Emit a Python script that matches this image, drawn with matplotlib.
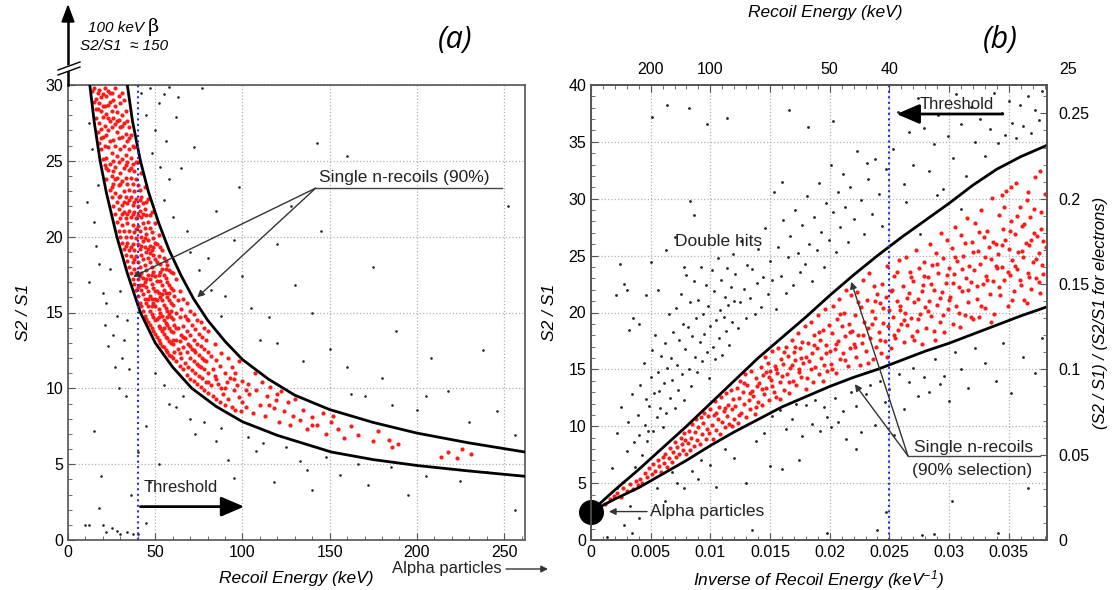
import numpy as np
import matplotlib
matplotlib.use("Agg")
import matplotlib.pyplot as plt
from matplotlib.ticker import MultipleLocator
from matplotlib.lines import Line2D
import matplotlib.transforms as mtransforms

plt.rcParams['font.family'] = ['Liberation Sans', 'DejaVu Sans']
plt.rcParams['mathtext.fontset'] = 'custom'
plt.rcParams['mathtext.rm'] = 'Liberation Sans:italic'
plt.rcParams['mathtext.it'] = 'Liberation Sans:italic'

# ---------------- данные панели (a): энергия отдачи, S2/S1 ----------------
band_a_upper_E = [34, 37, 41.5, 46, 52, 58, 65, 72, 80, 90, 100, 115, 130, 150, 175, 200, 230, 262]
band_a_upper_y = [30, 27.6, 25.0, 23.0, 20.9, 19.1, 17.4, 15.9, 14.5, 13.1, 11.9, 10.6, 9.55, 8.6, 7.75, 7.05, 6.4, 5.8]
band_a_lower_E = [12.5, 15, 18.4, 22, 28, 34, 41.5, 50, 60, 71, 85, 100, 120, 151, 175, 201, 230, 262]
band_a_lower_y = [30, 27.6, 25, 22.9, 20, 17.6, 15, 13, 11.4, 10, 8.8, 7.8, 6.9, 5.8, 5.3, 4.9, 4.55, 4.2]
threshold_E = 40

red_a = [
    (14,29.6),(15,28.9),(15,29.8),(16,27.8),(16,29.1),(17,28.4),(17,26.9),(17,29.5),(18,26.2),(18,27.5),(18,28.8),(18,29.7),
    (19,25.8),(19,27.1),(19,28.3),(19,29.2),(20,25.1),(20,26.6),(20,27.9),(20,29.4),(21,24.7),(21,26.0),(21,27.3),(21,28.6),(21,29.8),
    (22,23.8),(22,25.2),(22,26.7),(22,28.1),(22,29.3),(23,24.4),(23,25.9),(23,27.0),(23,28.7),(23,29.6),(24,23.1),(24,24.8),(24,26.3),
    (24,27.6),(24,28.9),(25,22.6),(25,24.0),(25,25.5),(25,27.2),(25,28.3),(25,29.5),(26,22.0),(26,23.5),(26,25.0),(26,26.4),(26,27.8),
    (26,29.0),(27,21.5),(27,22.9),(27,24.6),(27,26.0),(27,27.4),(27,28.6),(27,29.8),(28,21.0),(28,22.3),(28,23.9),(28,25.3),(28,26.9),
    (28,28.2),(29,20.4),(29,21.8),(29,23.4),(29,24.9),(29,26.5),(29,27.7),(29,29.3),(30,20.0),(30,21.2),(30,22.7),(30,24.2),(30,25.8),
    (30,27.2),(30,28.8),(31,19.6),(31,20.8),(31,22.1),(31,23.7),(31,25.1),(31,26.6),(31,28.0),(31,29.5),(32,19.2),(32,20.4),(32,21.6),
    (32,23.0),(32,24.5),(32,26.0),(32,27.5),(32,29.0),(33,18.8),(33,20.0),(33,21.2),(33,22.6),(33,23.9),(33,25.4),(33,26.8),(33,28.3),
    (34,18.4),(34,19.6),(34,20.9),(34,22.2),(34,23.5),(34,24.9),(34,26.3),(34,27.6),(35,18.0),(35,19.1),(35,20.4),(35,21.7),(35,23.1),
    (35,24.4),(35,25.8),(35,27.2),(36,17.6),(36,18.7),(36,20.0),(36,21.3),(36,22.6),(36,23.9),(36,25.2),(36,26.7),(37,17.2),(37,18.3),
    (37,19.5),(37,20.8),(37,22.1),(37,23.5),(37,24.8),(38,16.9),(38,17.9),(38,19.1),(38,20.3),(38,21.6),(38,23.0),(38,24.3),(38,25.9),
    (39,16.5),(39,17.6),(39,18.7),(39,19.9),(39,21.2),(39,22.5),(39,23.8),(40,16.1),(40,17.2),(40,18.3),(40,19.5),(40,20.7),(40,22.0),
    (40,23.4),(40,24.9),(41,15.6),(41,16.8),(41,18.0),(41,19.2),(41,20.4),(41,21.7),(41,23.1),(42,15.4),(42,16.5),(42,17.6),(42,18.8),
    (42,20.0),(42,21.3),(42,22.6),(42,24.2),(43,15.1),(43,16.2),(43,17.3),(43,18.5),(43,19.7),(43,20.9),(43,22.2),(44,14.8),(44,15.9),
    (44,17.0),(44,18.1),(44,19.3),(44,20.6),(44,21.8),(44,23.3),(45,14.6),(45,15.6),(45,16.7),(45,17.8),(45,19.0),(45,20.2),(45,21.4),
    (46,14.4),(46,15.4),(46,16.4),(46,17.5),(46,18.6),(46,19.8),(46,21.0),(46,22.5),(47,14.2),(47,15.1),(47,16.1),(47,17.2),(47,18.3),
    (47,19.4),(47,20.6),(48,14.0),(48,14.9),(48,15.9),(48,16.9),(48,18.0),(48,19.1),(48,20.3),(48,21.6),(49,13.8),(49,14.7),(49,15.6),
    (49,16.6),(49,17.7),(49,18.8),(49,19.9),(50,13.6),(50,14.5),(50,15.4),(50,16.4),(50,17.4),(50,18.5),(50,19.6),(50,20.9),
    (51,13.4),(51,14.6),(51,15.8),(51,17.1),(51,18.3),(51,19.5),(52,13.2),(52,14.1),(52,15.2),(52,16.3),(52,17.5),(52,18.7),(52,20.1),
    (53,13.0),(53,14.0),(53,15.0),(53,16.0),(53,17.1),(53,18.2),(53,19.3),(54,12.8),(54,13.8),(54,14.8),(54,15.8),(54,16.8),(54,17.9),
    (54,19.1),(55,12.7),(55,13.6),(55,14.5),(55,15.5),(55,16.5),(55,17.5),(55,18.6),(56,12.5),(56,13.4),(56,14.3),(56,15.3),(56,16.3),
    (56,17.3),(56,18.4),(57,12.4),(57,13.3),(57,14.2),(57,15.1),(57,16.0),(57,17.0),(57,18.1),(58,12.2),(58,13.1),(58,14.0),(58,14.9),
    (58,15.8),(58,16.8),(58,17.8),(59,12.1),(59,13.0),(59,13.8),(59,14.7),(59,15.6),(59,16.6),(59,17.7),(60,12.0),(60,12.9),(60,13.7),
    (60,14.6),(60,15.5),(60,16.5),(60,17.6),
    (61,12.4),(61,14.2),(61,16.1),(62,11.8),(62,13.2),(62,15.0),(62,17.2),(63,12.6),(63,14.0),(63,15.8),(64,11.5),(64,13.1),(64,14.7),
    (64,16.4),(65,12.0),(65,13.5),(65,15.2),(66,11.3),(66,12.7),(66,14.1),(66,15.9),(67,11.7),(67,13.3),(67,14.8),(68,10.9),(68,12.4),
    (68,13.8),(68,15.6),(69,11.4),(69,12.9),(69,14.5),(70,10.6),(70,12.0),(70,13.5),(70,15.1),(71,11.2),(71,12.6),(71,14.2),(72,10.5),
    (72,11.8),(72,13.2),(72,14.9),(73,11.0),(73,12.4),(73,13.9),(74,10.3),(74,11.6),(74,12.9),(74,14.5),(75,10.8),(75,12.2),(75,13.6),
    (76,10.1),(76,11.4),(76,12.8),(76,14.4),(77,10.7),(77,12.0),(77,13.4),(78,9.9),(78,11.3),(78,12.6),(78,14.0),(79,10.4),(79,11.8),
    (79,13.2),(80,9.7),(80,11.0),(80,12.4),(80,13.8),
    (82,10.2),(82,12.1),(83,9.5),(83,11.3),(84,10.8),(84,12.9),(85,9.3),(85,11.9),(86,10.3),(87,9.1),(87,11.5),(88,10.0),(88,12.3),
    (89,9.6),(90,8.9),(90,11.0),(91,10.4),(92,9.3),(92,12.0),(93,10.7),(94,8.8),(94,11.4),(95,9.9),(96,8.6),(96,11.0),(97,10.2),
    (98,9.4),(98,11.8),(99,8.5),(100,10.5),(100,9.1),
    (102,8.8),(103,10.3),(104,9.6),(106,8.4),(107,11.0),(108,9.9),(110,8.9),(111,10.4),(113,8.2),(114,9.5),(116,10.1),(118,8.7),
    (119,9.2),(121,7.8),(122,9.8),(124,8.5),(126,9.1),(127,7.6),(129,8.2),(130,9.3),
    (133,7.9),(135,8.6),(137,7.3),(140,8.1),(143,7.6),(146,8.4),(148,7.0),(151,7.8),(155,7.3),(158,6.7),(162,7.5),(166,6.9),
    (184,6.6),(186,6.1),(189,6.3),(214,5.5),(218,5.8),(223,5.4),(226,6.0),(231,5.7),
    (16,28.4),(19,26.5),(20,28.6),(22,24.5),(23,27.8),(24,29.5),(25,23.3),(26,24.3),(27,23.8),(28,27.6),(29,22.6),(30,23.5),
    (31,21.5),(31,27.3),(32,22.3),(33,19.4),(33,24.7),(34,21.5),(35,22.4),(35,26.5),(36,19.3),(36,24.5),(37,21.5),(37,26.0),
    (38,18.5),(38,22.3),(39,20.5),(39,24.9),(40,16.7),(40,21.4),(41,17.4),(41,22.4),(42,19.4),(43,16.8),(43,21.5),(44,19.9),
    (45,17.2),(45,22.3),(46,15.9),(46,19.2),(47,18.9),(47,21.4),(48,15.4),(48,17.5),(49,19.3),(50,15.9),(51,16.4),(52,14.7),
    (53,17.7),(54,16.2),(55,14.0),(56,17.9),(57,14.7),(58,16.3),(59,15.1),(60,13.2),(62,14.0),(64,12.3),(66,13.4),(68,14.6),
    (70,12.8),(72,12.5),(75,11.5),(78,11.9),(80,10.4),(85,10.6),(90,10.0),(95,10.6),(102,9.9),(115,8.9),(120,9.6),(140,7.6),
    (152,8.2),(175,6.5),(178,7.2),
]

black_a = [
    (12,27.5),(14,25.8),(11,22.3),(15,21.0),(17,23.4),(16,19.4),(18,18.2),(12,17.0),(20,16.3),(22,15.6),(24,17.9),(21,14.2),
    (26,13.5),(23,12.8),(28,14.8),(30,16.4),(27,11.4),(32,13.2),(29,10.0),(34,14.5),(31,12.0),(33,9.5),(35,11.3),(15,7.2),
    (12,1.0),(18,2.1),(20,1.0),(22,0.5),(25,0.8),(28,0.6),(30,0.4),(34,0.5),(37,0.4),(40,0.4),(45,1.1),(19,4.2),(10,1.0),(36,3.0),
    (42,29.5),(45,28.0),(47,29.8),(50,27.0),(52,28.8),(48,25.5),(53,24.6),(56,26.3),(55,22.4),(58,23.8),(60,21.3),(62,27.9),
    (65,24.5),(72,25.9),(68,20.4),(70,19.0),(75,17.8),(80,18.6),(82,16.5),(88,14.8),(85,21.7),(90,16.1),(95,19.8),(100,17.4),
    (105,15.3),(110,13.2),(115,14.7),(98,23.3),(77,29.8),(63,29.2),(58,29.9),(55,29.4),
    (50,11.0),(55,10.2),(58,9.0),(62,8.8),(66,9.5),(70,8.0),(73,7.0),(78,7.8),(85,6.5),(88,7.4),(92,5.3),(95,4.1),(103,6.8),
    (108,5.9),(112,6.4),(118,3.8),(125,6.1),(133,5.2),(137,4.6),(140,3.3),(148,5.5),(156,4.3),(166,5.0),(172,3.6),(185,4.8),
    (195,3.0),(205,4.2),(225,3.9),(240,4.5),(256,2.0),(45,7.5),(52,5.0),(40,5.8),(47,3.8),
    (120,19.5),(130,16.8),(140,15.0),(150,12.6),(160,11.4),(170,9.5),(180,10.7),(200,8.6),(218,9.8),(230,7.8),(246,8.5),
    (256,6.9),(128,22.0),(145,20.4),(160,25.3),(175,18.0),(188,13.8),(208,12.0),(238,12.5),(252,22.0),(143,26.2),(186,8.9),
    (162,9.6),(135,11.8),(120,13.0),(205,9.5),
]

# ---------------- данные панели (b): 1/E, S2/S1 ----------------
band_b_x = [0, 0.002, 0.004, 0.006, 0.008, 0.010, 0.012, 0.014, 0.016, 0.018, 0.020, 0.022, 0.024, 0.026,
            0.028, 0.030, 0.032, 0.034, 0.036, 0.0382]
band_b_upper = [2.5, 4.4, 6.2, 8.1, 10.0, 12.0, 14.0, 16.0, 17.8, 19.6, 21.5, 23.3, 25.0, 26.6,
                28.1, 29.6, 31.2, 32.6, 33.7, 34.7]
band_b_lower = [2.5, 3.6, 4.6, 5.8, 7.0, 8.3, 9.5, 10.6, 11.7, 12.6, 13.5, 14.3, 15.0, 15.8,
                16.6, 17.3, 18.1, 18.9, 19.7, 20.5]
alpha_y = 2.5
ratio_electrons = 150
top_energies = [200, 100, 50, 40, 25]

red_b = [
    (0.0012,3.2),(0.0016,3.6),(0.0019,3.9),(0.0022,4.1),(0.0025,3.8),(0.0027,4.6),(0.0030,4.3),(0.0033,4.9),(0.0035,4.5),(0.0038,5.2),(0.0039,4.8),
    (0.0041,5.4),(0.0043,5.0),(0.0045,5.9),(0.0047,5.5),(0.0049,6.3),(0.0051,5.8),(0.0052,6.7),(0.0054,6.1),(0.0056,7.0),(0.0057,6.5),(0.0059,6.0),(0.0060,7.3),
    (0.0061,6.8),(0.0062,7.6),(0.0064,6.4),(0.0065,7.2),(0.0066,8.1),(0.0068,6.9),(0.0069,7.7),(0.0070,8.6),(0.0071,7.3),(0.0072,8.2),(0.0074,7.6),(0.0075,9.0),
    (0.0076,8.4),(0.0077,7.9),(0.0078,9.4),(0.0079,8.8),(0.0080,7.6),
    (0.0081,8.5),(0.0082,9.6),(0.0083,7.9),(0.0084,9.0),(0.0085,10.2),(0.0086,8.3),(0.0087,9.5),(0.0088,10.6),(0.0089,8.8),(0.0090,9.9),(0.0091,8.4),
    (0.0092,10.8),(0.0093,9.3),(0.0094,10.3),(0.0095,11.2),(0.0096,8.9),(0.0097,9.8),(0.0098,10.9),(0.0099,9.4),(0.0100,11.5),
    (0.0101,10.1),(0.0102,8.9),(0.0103,11.0),(0.0104,12.2),(0.0105,9.7),(0.0106,10.6),(0.0107,11.7),(0.0108,9.3),(0.0109,12.6),(0.0110,10.4),(0.0111,11.3),
    (0.0112,9.9),(0.0113,12.9),(0.0114,10.9),(0.0115,11.9),(0.0116,10.2),(0.0117,13.2),(0.0118,11.5),(0.0119,12.4),(0.0120,10.6),
    (0.0121,11.8),(0.0122,13.4),(0.0123,10.3),(0.0124,12.5),(0.0125,14.0),(0.0126,11.2),(0.0127,13.0),(0.0128,12.0),(0.0129,14.6),(0.0130,10.8),(0.0131,13.6),
    (0.0132,12.3),(0.0133,11.5),(0.0134,14.9),(0.0135,13.1),(0.0136,12.7),(0.0137,11.1),(0.0138,14.2),(0.0139,13.5),(0.0140,12.1),
    (0.0141,13.8),(0.0142,15.2),(0.0143,11.9),(0.0144,14.5),(0.0145,12.8),(0.0146,16.1),(0.0147,13.4),(0.0148,15.6),(0.0149,12.3),(0.0150,14.9),(0.0151,14.1),
    (0.0152,16.6),(0.0153,13.0),(0.0154,15.3),(0.0155,12.6),(0.0156,14.7),(0.0157,16.9),(0.0158,13.9),(0.0159,15.9),(0.0160,14.4),(0.0155,15.0),(0.0149,14.3),
    (0.0161,15.5),(0.0162,13.2),(0.0163,17.0),(0.0164,14.6),(0.0165,16.2),(0.0166,12.9),(0.0167,15.1),(0.0168,17.6),(0.0169,14.0),(0.0170,16.5),(0.0171,15.8),
    (0.0172,13.6),(0.0173,18.2),(0.0174,15.0),(0.0175,16.9),(0.0176,14.3),(0.0177,17.4),(0.0178,15.6),(0.0179,18.8),(0.0180,16.1),(0.0168,15.4),(0.0174,14.8),
    (0.0181,14.2),(0.0182,17.3),(0.0183,15.7),(0.0184,19.2),(0.0185,16.4),(0.0186,13.9),(0.0187,18.0),(0.0188,15.2),(0.0189,16.9),(0.0190,19.8),(0.0191,14.6),
    (0.0192,17.6),(0.0193,16.0),(0.0194,18.5),(0.0195,15.4),(0.0196,20.3),(0.0197,17.1),(0.0198,14.9),(0.0199,18.9),(0.0200,16.6),
    (0.0201,15.5),(0.0202,18.2),(0.0203,20.6),(0.0204,16.8),(0.0205,14.7),(0.0206,19.4),(0.0207,17.5),(0.0208,21.2),(0.0209,15.9),(0.0210,18.8),(0.0211,16.4),
    (0.0212,20.0),(0.0213,17.9),(0.0214,22.0),(0.0215,15.3),(0.0216,19.0),(0.0217,16.9),(0.0218,21.5),(0.0219,18.4),(0.0220,17.2),
    (0.0221,19.8),(0.0222,16.1),(0.0223,21.8),(0.0224,18.0),(0.0225,15.4),(0.0226,20.5),(0.0227,17.3),(0.0228,22.9),(0.0229,19.2),(0.0230,16.6),(0.0231,21.1),
    (0.0232,18.6),(0.0233,23.5),(0.0234,17.8),(0.0235,20.1),(0.0236,15.9),(0.0237,22.3),(0.0238,19.5),(0.0239,17.0),(0.0240,21.6),
    (0.0241,18.3),(0.0242,20.8),(0.0243,16.4),(0.0244,22.5),(0.0245,19.1),(0.0246,17.5),(0.0247,21.4),(0.0248,24.1),(0.0249,18.8),(0.0250,20.2),(0.0251,16.9),
    (0.0252,22.0),(0.0253,19.6),(0.0254,23.2),(0.0255,17.8),(0.0256,21.0),(0.0257,18.5),(0.0258,24.6),(0.0259,20.6),(0.0260,19.0),
    (0.0261,22.3),(0.0262,17.4),(0.0263,20.0),(0.0264,24.9),(0.0265,18.9),(0.0266,21.7),(0.0267,23.6),(0.0268,19.5),(0.0269,17.9),(0.0270,22.8),(0.0271,20.9),
    (0.0272,25.5),(0.0273,18.4),(0.0274,21.2),(0.0275,23.9),(0.0276,19.9),(0.0277,17.2),(0.0278,22.4),(0.0279,24.4),(0.0280,20.5),
    (0.0281,18.6),(0.0282,23.1),(0.0283,21.0),(0.0284,26.0),(0.0285,19.7),(0.0286,24.2),(0.0287,22.0),(0.0288,17.6),(0.0289,25.2),(0.0290,20.7),(0.0291,23.5),
    (0.0292,19.2),(0.0293,27.0),(0.0294,21.8),(0.0295,24.8),(0.0296,18.3),(0.0297,22.6),(0.0298,26.4),(0.0299,20.3),(0.0300,23.9),
    (0.0301,21.4),(0.0302,25.7),(0.0303,19.0),(0.0304,23.4),(0.0305,27.5),(0.0306,20.6),(0.0307,24.5),(0.0308,22.2),(0.0309,18.7),(0.0310,26.8),(0.0311,21.9),
    (0.0312,25.0),(0.0313,19.8),(0.0314,23.0),(0.0315,28.3),(0.0316,20.9),(0.0317,24.1),(0.0318,22.7),(0.0319,26.2),(0.0320,19.4),
    (0.0321,23.7),(0.0322,27.9),(0.0323,21.2),(0.0324,25.4),(0.0325,19.6),(0.0326,24.3),(0.0327,29.0),(0.0328,22.5),(0.0329,26.6),(0.0330,20.4),(0.0331,23.2),
    (0.0332,27.2),(0.0333,25.8),(0.0334,21.6),(0.0335,24.7),(0.0336,30.1),(0.0337,22.8),(0.0338,19.9),(0.0339,26.0),(0.0340,23.9),
    (0.0341,25.1),(0.0342,28.6),(0.0343,21.5),(0.0344,24.0),(0.0345,27.3),(0.0346,22.9),(0.0347,26.4),(0.0348,30.7),(0.0349,20.6),(0.0350,25.6),(0.0351,23.3),
    (0.0352,28.0),(0.0353,24.6),(0.0354,21.9),(0.0355,26.9),(0.0356,31.4),(0.0357,23.8),(0.0358,25.3),(0.0359,29.3),(0.0360,22.4),(0.0361,27.6),(0.0362,24.9),
    (0.0363,21.1),(0.0364,26.1),(0.0365,29.9),(0.0366,23.5),(0.0367,25.9),(0.0368,28.4),(0.0369,22.1),(0.0370,24.4),(0.0371,27.0),(0.0372,31.9),(0.0373,23.0),
    (0.0374,26.7),(0.0375,25.2),(0.0376,21.7),(0.0377,28.8),(0.0378,24.2),(0.0379,26.3),(0.0380,30.4),
    (0.0105,11.2),(0.0112,11.6),(0.0118,10.0),(0.0124,11.0),(0.0128,13.8),(0.0133,12.9),(0.0138,11.7),(0.0143,13.3),(0.0147,14.8),(0.0152,13.5),
    (0.0158,12.4),(0.0162,16.5),(0.0166,13.9),(0.0171,17.0),(0.0176,16.0),(0.0180,13.3),(0.0184,15.0),(0.0187,17.1),(0.0191,18.3),(0.0194,14.0),
    (0.0197,16.4),(0.0202,15.0),(0.0205,17.2),(0.0209,19.9),(0.0213,15.8),(0.0217,18.3),(0.0221,17.0),(0.0224,20.9),(0.0228,18.0),(0.0232,15.6),
    (0.0235,19.0),(0.0238,21.0),(0.0242,17.6),(0.0245,20.4),(0.0248,16.1),(0.0251,21.9),(0.0254,18.0),(0.0256,23.6),(0.0259,20.2),(0.0262,19.3),
    (0.0265,21.3),(0.0268,23.1),(0.0271,17.6),(0.0274,19.4),(0.0277,21.9),(0.0279,23.2),(0.0282,20.1),(0.0285,22.5),(0.0287,18.4),(0.0290,24.3),
    (0.0292,21.3),(0.0295,19.8),(0.0298,23.3),(0.0300,21.1),(0.0303,22.6),(0.0305,24.9),(0.0308,20.0),(0.0311,23.8),(0.0313,26.1),(0.0316,22.0),
    (0.0318,19.6),(0.0320,25.3),(0.0323,22.3),(0.0325,27.1),(0.0327,20.6),(0.0330,24.9),(0.0332,22.9),(0.0335,19.2),(0.0337,26.2),(0.0339,24.1),
    (0.0342,22.2),(0.0344,25.9),(0.0346,29.3),(0.0349,23.6),(0.0351,27.2),(0.0353,21.1),(0.0355,24.1),(0.0357,28.5),(0.0359,22.9),(0.0361,25.4),
    (0.0363,27.8),(0.0365,20.8),(0.0367,23.1),(0.0369,26.4),(0.0371,29.1),(0.0373,24.7),(0.0375,22.7),(0.0377,27.3),(0.0379,23.4),(0.0381,25.8),
    (0.0366,30.6),(0.0352,31.0),(0.0376,32.4),(0.0344,30.3),
]

black_b = [
    (0.0018,6.3),(0.0022,9.4),(0.0025,11.7),(0.0027,5.1),(0.0030,7.8),(0.0031,10.4),(0.0033,3.0),(0.0034,12.8),(0.0036,8.6),(0.0037,6.4),(0.0039,11.0),
    (0.0040,9.2),(0.0041,13.6),(0.0043,7.5),(0.0044,15.6),(0.0045,10.1),(0.0046,12.4),(0.0047,8.7),(0.0048,9.6),(0.0049,11.8),(0.0050,14.3),(0.0051,16.7),
    (0.0052,9.6),(0.0053,12.9),(0.0054,18.0),(0.0055,10.8),(0.0056,14.8),(0.0057,13.1),(0.0058,11.6),(0.0059,16.2),(0.0060,9.9),(0.0021,21.5),(0.0024,24.3),
    (0.0028,22.5),(0.0030,22.0),(0.0032,18.5),(0.0035,19.5),(0.0040,19.0),(0.0046,21.5),(0.0050,24.4),(0.0056,22.0),(0.0034,0.6),(0.0028,1.3),(0.0013,0.3),
    (0.0040,1.9),(0.0022,4.6),
    (0.0061,13.8),(0.0062,17.3),(0.0063,11.2),(0.0064,15.1),(0.0065,19.9),(0.0066,12.5),(0.0067,16.0),(0.0068,14.1),(0.0069,18.3),(0.0070,11.6),(0.0071,20.4),
    (0.0072,15.4),(0.0073,13.2),(0.0074,17.6),(0.0075,21.6),(0.0076,14.6),(0.0077,19.0),(0.0078,12.3),(0.0079,16.8),(0.0080,23.3),(0.0081,18.7),(0.0082,15.0),
    (0.0083,20.9),(0.0084,13.5),(0.0085,17.9),(0.0086,22.8),(0.0087,16.1),(0.0088,19.5),(0.0089,14.8),(0.0090,21.1),(0.0091,17.4),(0.0092,24.0),(0.0093,15.7),
    (0.0094,19.9),(0.0095,18.1),(0.0096,22.4),(0.0097,16.5),(0.0098,20.6),(0.0099,14.2),(0.0100,18.8),(0.0101,23.7),(0.0102,17.0),(0.0103,21.9),(0.0104,15.9),
    (0.0105,19.3),(0.0106,24.8),(0.0107,17.8),(0.0108,20.2),(0.0109,22.9),(0.0110,16.3),(0.0111,19.6),(0.0112,21.4),(0.0113,18.4),(0.0114,23.9),(0.0115,20.7),
    (0.0116,17.1),(0.0117,22.2),(0.0118,19.2),(0.0119,25.1),(0.0120,21.0),(0.0070,26.6),(0.0083,29.8),(0.0086,28.6),(0.0063,25.5),(0.0078,24.0),
    (0.0055,4.6),(0.0062,3.4),(0.0072,5.0),(0.0078,4.6),(0.0085,6.1),(0.0092,7.0),(0.0100,6.6),(0.0105,4.7),(0.0112,8.0),(0.0120,7.2),(0.0130,5.0),
    (0.0138,8.7),(0.0145,9.4),(0.0150,6.5),(0.0135,0.9),(0.0090,5.4),(0.0068,6.0),
    (0.0121,23.4),(0.0123,18.6),(0.0125,20.9),(0.0126,26.3),(0.0128,22.1),(0.0130,19.5),(0.0131,24.2),(0.0133,21.3),(0.0135,23.8),(0.0137,19.9),(0.0139,22.6),
    (0.0140,25.6),(0.0142,20.5),(0.0144,23.1),(0.0146,27.4),(0.0148,21.6),(0.0150,24.5),(0.0152,22.9),(0.0153,30.6),(0.0155,20.3),(0.0157,25.8),(0.0159,23.2),
    (0.0161,28.1),(0.0163,21.7),(0.0165,24.9),(0.0167,26.7),(0.0169,22.4),(0.0171,29.0),(0.0173,25.2),(0.0175,23.6),(0.0177,27.7),(0.0179,24.3),(0.0181,30.2),
    (0.0183,26.0),(0.0185,22.8),(0.0187,28.4),(0.0189,25.5),(0.0191,31.4),(0.0193,27.1),(0.0195,24.0),(0.0197,29.6),(0.0199,26.4),(0.0201,33.0),(0.0203,28.8),
    (0.0205,25.3),(0.0207,30.6),(0.0209,27.5),(0.0211,32.2),(0.0213,29.3),(0.0215,26.2),(0.0217,31.0),(0.0220,28.2),(0.0223,34.2),(0.0226,29.9),(0.0229,26.9),
    (0.0232,31.7),(0.0235,28.7),(0.0238,33.5),(0.0241,30.4),(0.0244,27.6),(0.0247,32.6),(0.0166,37.8),(0.0114,37.1),(0.0082,38.0),(0.0064,38.2),(0.0051,37.2),
    (0.0097,36.6),(0.0182,36.3),(0.0203,36.8),(0.0231,33.1),(0.0160,31.5),
    (0.0253,34.4),(0.0257,37.6),(0.0262,31.3),(0.0266,35.9),(0.0270,33.0),(0.0274,38.9),(0.0279,36.2),(0.0283,32.4),(0.0287,34.8),(0.0291,37.4),(0.0295,30.9),
    (0.0299,35.5),(0.0303,33.6),(0.0306,39.2),(0.0310,36.6),(0.0314,32.0),(0.0318,38.1),(0.0322,35.0),(0.0326,37.0),(0.0330,33.8),(0.0334,36.1),(0.0338,39.3),
    (0.0341,34.9),(0.0344,37.5),(0.0347,35.6),(0.0350,38.6),(0.0353,36.7),(0.0356,35.3),(0.0359,38.2),(0.0362,36.4),(0.0366,39.0),(0.0369,35.8),(0.0372,37.8),
    (0.0375,36.9),(0.0378,39.5),(0.0264,29.7),(0.0290,30.3),(0.0310,29.1),(0.0276,26.9),
    (0.0152,10.9),(0.0158,11.4),(0.0163,9.8),(0.0168,10.6),(0.0172,12.0),(0.0177,9.1),(0.0180,11.9),(0.0185,10.2),(0.0188,12.3),(0.0192,9.6),(0.0195,11.7),
    (0.0198,10.8),(0.0201,9.9),(0.0204,12.5),(0.0207,10.4),(0.0211,11.3),(0.0214,8.9),(0.0218,13.0),(0.0222,11.8),(0.0226,9.5),(0.0230,12.8),(0.0234,13.6),
    (0.0238,10.1),(0.0242,14.0),(0.0246,12.1),(0.0250,13.3),(0.0254,9.2),(0.0258,14.6),(0.0262,11.5),(0.0266,13.9),(0.0270,15.1),(0.0274,12.7),(0.0279,14.3),
    (0.0283,13.0),(0.0288,15.9),(0.0292,13.7),(0.0296,14.4),(0.0300,12.2),(0.0305,16.5),(0.0310,15.0),(0.0316,13.4),(0.0322,16.9),(0.0330,15.6),(0.0339,14.0),
    (0.0345,17.3),(0.0352,12.9),(0.0362,16.1),(0.0372,14.7),(0.0378,17.8),(0.0174,7.0),(0.0222,8.0),(0.0247,2.5),(0.0302,3.4),(0.0366,4.6),(0.0341,0.6),
    (0.0287,0.5),(0.0277,0.4),(0.0240,0.9),(0.0160,6.2),(0.0198,0.6),
]

W, H = 1114, 590
RED = '#ff1a1a'
DOT = '#222222'
SPINE = '#555555'


def fx(px):
    return px / W


def fy(py):
    return 1 - py / H


def style_axes(ax):
    for s in ax.spines.values():
        s.set_color(SPINE)
        s.set_linewidth(1.2)
    ax.grid(True, which='major', linestyle=':', color='#b0b0b0', linewidth=0.9)
    ax.set_axisbelow(True)
    ax.tick_params(which='both', direction='in', color=SPINE, labelsize=11.5)
    ax.tick_params(which='major', length=5)
    ax.tick_params(which='minor', length=3)


fig = plt.figure(figsize=(W / 100, H / 100), dpi=100)

# ---------------- панель (a) ----------------
ax1 = fig.add_axes([fx(68), fy(540), fx(525 - 68), (540 - 85) / H])
style_axes(ax1)
ra = np.array(red_a)
ba = np.array(black_a)
ax1.scatter(ba[:, 0], ba[:, 1], s=3.5, color=DOT, linewidths=0, zorder=2)
ax1.scatter(ra[:, 0], ra[:, 1], s=9, color=RED, linewidths=0, zorder=3)
ax1.plot(band_a_upper_E, band_a_upper_y, color='black', lw=2, zorder=4)
ax1.plot(band_a_lower_E, band_a_lower_y, color='black', lw=2, zorder=4)
ax1.axvline(threshold_E, color='#2233dd', ls=':', lw=1.5, zorder=4)
ax1.set_xlim(0, 262)
ax1.set_ylim(0, 30)
ax1.xaxis.set_major_locator(MultipleLocator(50))
ax1.xaxis.set_minor_locator(MultipleLocator(10))
ax1.yaxis.set_major_locator(MultipleLocator(5))
ax1.yaxis.set_minor_locator(MultipleLocator(1))
ax1.set_xlabel('Recoil Energy (keV)', style='italic', fontsize=12.5, labelpad=8)
ax1.set_ylabel('S2 / S1', style='italic', fontsize=12.5, labelpad=10)

thin = dict(arrowstyle='-|>', color='#333333', lw=1.0, mutation_scale=10, shrinkA=0, shrinkB=0)
ax1.text(144, 23.9, 'Single n-recoils (90%)', fontsize=12.5, va='center', ha='left', color='#222222')
ax1.plot([142, 249], [23.2, 23.2], color='#444444', lw=1.0)
ax1.annotate('', xy=(37.3, 17.35), xytext=(142, 23.2), arrowprops=thin, zorder=6)
ax1.annotate('', xy=(74.1, 16.0), xytext=(142, 23.2), arrowprops=thin, zorder=6)

ax1.text(64.5, 2.95, 'Threshold', fontsize=12, ha='center', va='bottom', color='#222222')
ax1.annotate('', xy=(101, 2.2), xytext=(41.5, 2.2),
             arrowprops=dict(arrowstyle='-|>,head_length=0.7,head_width=0.3', color='black',
                             lw=2, mutation_scale=20, shrinkA=0, shrinkB=0))

# стрелка вверх и пометка 100 keV β
fig.add_artist(Line2D([fx(68), fx(68)], [fy(85), fy(20)], color='black', lw=1.8, transform=fig.transFigure))
fig.patches.append(plt.Polygon([[fx(62), fy(22)], [fx(74), fy(22)], [fx(68), fy(6)]], closed=True,
                               color='black', transform=fig.transFigure))
fig.add_artist(Line2D([fx(58), fx(80)], [fy(72), fy(64)], color='white', lw=4, transform=fig.transFigure))
fig.add_artist(Line2D([fx(58), fx(80)], [fy(70), fy(62)], color='black', lw=1.0, transform=fig.transFigure))
fig.add_artist(Line2D([fx(58), fx(80)], [fy(75), fy(67)], color='black', lw=1.0, transform=fig.transFigure))
fig.text(fx(88), fy(28), '100 keV', style='italic', fontsize=11, va='center')
fig.text(fx(148), fy(27), 'β', family='DejaVu Serif', fontsize=14, va='center')
fig.text(fx(80), fy(46), 'S2/S1  ≈ 150', style='italic', fontsize=11, va='center')

fig.text(fx(455), fy(40), '(a)', family='Open Sans', style='italic', fontsize=22, ha='center', va='center')
fig.text(fx(1000), fy(40), '(b)', family='Open Sans', style='italic', fontsize=22, ha='center', va='center')

fig.text(fx(447), fy(569), 'Alpha particles', fontsize=12, ha='center', va='center', color='#222222')
ax1.annotate('', xy=(fx(548), fy(569)), xycoords='figure fraction',
             xytext=(fx(506), fy(569)), textcoords='figure fraction', arrowprops=thin)

# ---------------- панель (b) ----------------
ax2 = fig.add_axes([fx(591), fy(540), fx(1047 - 591), (540 - 85) / H])
style_axes(ax2)
rb = np.array(red_b)
bb = np.array(black_b)
ax2.scatter(bb[:, 0], bb[:, 1], s=4, color=DOT, linewidths=0, zorder=2)
ax2.scatter(rb[:, 0], rb[:, 1], s=9, color=RED, linewidths=0, zorder=3)
ax2.plot(band_b_x, band_b_upper, color='black', lw=2, zorder=4)
ax2.plot(band_b_x, band_b_lower, color='black', lw=2, zorder=4)
ax2.axvline(1 / threshold_E, color='#2233dd', ls=':', lw=1.5, zorder=4)
ax2.plot([0], [alpha_y], 'o', ms=17, color='black', clip_on=False, zorder=7)
ax2.set_xlim(0, 0.0382)
ax2.set_ylim(0, 40)
ax2.xaxis.set_major_locator(MultipleLocator(0.005))
ax2.xaxis.set_minor_locator(MultipleLocator(0.001))
ax2.yaxis.set_major_locator(MultipleLocator(5))
ax2.yaxis.set_minor_locator(MultipleLocator(1))
ax2.xaxis.set_major_formatter(lambda v, p: '0' if abs(v) < 1e-9 else ('%.3f' % v).rstrip('0'))
ax2.tick_params(which='both', top=True)
ax2.set_xlabel('Inverse of Recoil Energy (keV$^{-1}$)', style='italic', fontsize=12.5, labelpad=6)
ax2.set_ylabel('S2 / S1', style='italic', fontsize=12.5, labelpad=8)

# верхняя шкала: энергия
top_tr = mtransforms.blended_transform_factory(ax2.transData, ax2.transAxes)
for e in top_energies:
    ax2.text(1 / e, 1.033, str(e), transform=top_tr, ha='center', va='center', fontsize=11.5, clip_on=False)
fig.text(fx(825), fy(12), 'Recoil Energy (keV)', style='italic', fontsize=12.5, ha='center', va='center')

# правая шкала
ax2r = ax2.twinx()
ax2r.set_ylim(0, 40 / ratio_electrons)
ax2r.yaxis.set_major_locator(MultipleLocator(0.05))
ax2r.yaxis.set_minor_locator(MultipleLocator(0.01))
ax2r.yaxis.set_major_formatter(lambda v, p: '0' if abs(v) < 1e-9 else ('%.2f' % v).rstrip('0'))
ax2r.tick_params(which='both', direction='in', color=SPINE, labelsize=11.5, pad=8)
ax2r.tick_params(which='major', length=5)
ax2r.tick_params(which='minor', length=3)
for s in ax2r.spines.values():
    s.set_color(SPINE)
    s.set_linewidth(1.2)
ax2r.set_ylabel('(S2 / S1) / (S2/S1 for electrons)', style='italic', fontsize=12, labelpad=3)

ax2.text(0.0107, 26.2, 'Double hits', fontsize=12.5, ha='center', va='center', color='#222222', zorder=6)
ax2.text(0.00494, 2.5, 'Alpha particles', fontsize=12.5, ha='left', va='center', color='#222222', zorder=6)
ax2.annotate('', xy=(0.0015, 2.5), xytext=(0.0047, 2.5), arrowprops=thin, zorder=6)

ax2.text(0.03065, 38.3, 'Threshold', fontsize=12, ha='center', va='center', color='#222222')
ax2.annotate('', xy=(0.0256, 37.45), xytext=(0.0345, 37.45),
             arrowprops=dict(arrowstyle='-|>,head_length=0.7,head_width=0.3', color='black',
                             lw=2, mutation_scale=20, shrinkA=0, shrinkB=0))

ax2.text(0.0271, 8.1, 'Single n-recoils', fontsize=12.5, ha='left', va='center', color='#222222', zorder=6)
ax2.text(0.0269, 6.1, '(90% selection)', fontsize=12.5, ha='left', va='center', color='#222222', zorder=6)
ax2.plot([0.02655, 0.0376], [7.4, 7.4], color='#444444', lw=1.0, zorder=6)
ax2.annotate('', xy=(0.0221, 13.7), xytext=(0.02655, 7.4), arrowprops=thin, zorder=6)
ax2.annotate('', xy=(0.0218, 22.7), xytext=(0.02655, 7.4), arrowprops=thin, zorder=6)

fig.savefig('out.png', dpi=100)
